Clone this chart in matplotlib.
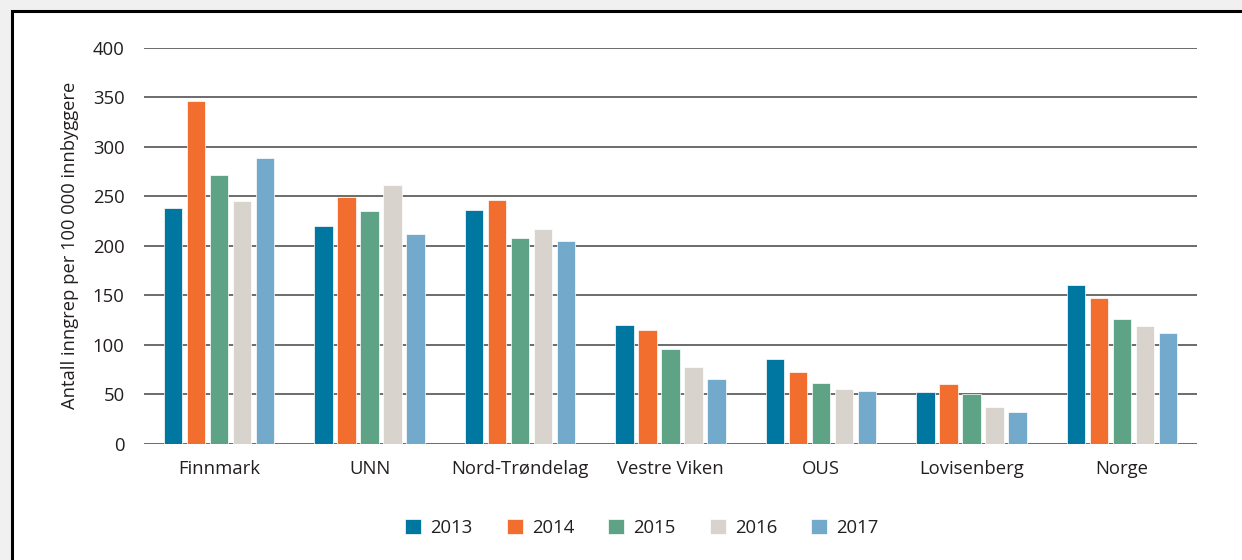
import numpy as np
import matplotlib.pyplot as plt
from matplotlib.patches import Rectangle

plt.rcParams['font.family'] = ['Open Sans', 'DejaVu Sans']

regions = ["Finnmark", "UNN", "Nord-Trøndelag", "Vestre Viken", "OUS", "Lovisenberg", "Norge"]
years = ["2013", "2014", "2015", "2016", "2017"]

v2013 = [238.5, 220, 236.5, 119.5, 85.5, 52.5, 160.5]
v2014 = [346.5, 249.5, 246, 114.5, 72.5, 60.5, 147.5]
v2015 = [271.5, 235.5, 207.5, 95.5, 61, 50.5, 126.5]
v2016 = [245, 261.5, 217, 78, 55.5, 37, 118.5]
v2017 = [288.5, 211.5, 204.5, 65.5, 53.5, 32, 111.5]

colors = ["#0077a0", "#f26e2f", "#5fa387", "#d8d3cc", "#73aacb"]

fig = plt.figure(figsize=(12.42, 5.6), dpi=100)
fig.patch.set_facecolor("#f0f0f0")

# white panel with black frame (top and left edges)
panel = Rectangle((12 / 1242, -0.1), 1.2, 1 - 11 / 560 + 0.1, transform=fig.transFigure,
                  facecolor="white", edgecolor="black", linewidth=2.2, zorder=-1)
fig.patches.append(panel)

ax = fig.add_axes([144 / 1242, 1 - 443.7 / 560, (1197 - 144) / 1242, (443.7 - 48) / 560])
ax.set_facecolor("none")

x = np.arange(len(regions))
pitch = 0.153
width = 0.123
for i, (vals, year) in enumerate(zip([v2013, v2014, v2015, v2016, v2017], years)):
    ax.bar(x + (i - 2) * pitch, vals, width, color=colors[i], label=year,
           edgecolor="white", linewidth=0.5, zorder=3)

ax.set_xlim(-0.5, len(regions) - 0.5)
ax.set_ylim(0, 400)
ax.set_yticks(range(0, 401, 50))
ax.yaxis.grid(True, color="#444444", linewidth=1.1, zorder=1)
ax.set_axisbelow(True)
for s in ax.spines.values():
    s.set_visible(False)
ax.tick_params(axis="both", length=0, labelsize=13.3, colors="#231f20")
ax.tick_params(axis="y", pad=14)
ax.tick_params(axis="x", pad=12)
ax.set_xticks(x)
ax.set_xticklabels(regions)
ax.set_ylabel("Antall inngrep per 100 000 innbyggere", fontsize=13.2, color="#231f20", labelpad=10)

fig.legend(loc="center", bbox_to_anchor=(642 / 1242, 1 - 528 / 560), ncol=5, frameon=False,
           fontsize=13.3, handlelength=0.85, handleheight=0.85, handletextpad=0.5,
           columnspacing=1.85, labelcolor="#231f20")

fig.savefig("out.png", dpi=100, facecolor=fig.get_facecolor())
